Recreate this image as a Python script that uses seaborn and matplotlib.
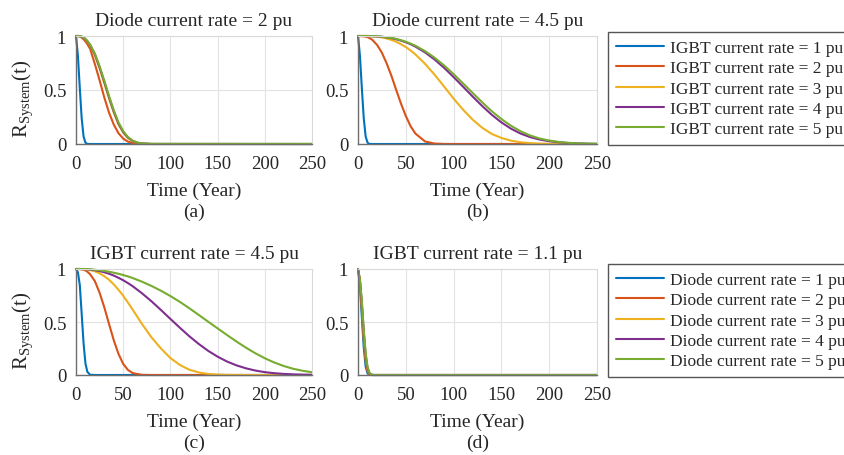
import numpy as np
import pandas as pd
import matplotlib
matplotlib.use("Agg")
import matplotlib.pyplot as plt
import seaborn as sns

# time grids (years) per panel
t_a = [0, 2, 4, 6, 8, 10, 12, 15, 20, 25, 30, 35, 40, 45, 50, 55, 60, 65, 70, 80, 250]
t_b = [0, 2, 4, 6, 8, 10, 12, 15, 20, 25, 30, 35, 40, 45, 50, 55, 60, 70, 80, 90,
       100, 110, 120, 130, 140, 150, 160, 170, 180, 190, 200, 210, 220, 230, 240, 250]
t_c = t_b
t_d = [0, 2, 4, 6, 8, 10, 12, 14, 16, 250]

# (a) diode current rate = 2 pu
a_1pu = [1, 0.82, 0.52, 0.24, 0.07, 0.012, 0.001] + [0] * 14
a_2pu = [1, 1.0, 0.995, 0.985, 0.97, 0.95, 0.925, 0.88, 0.74, 0.59, 0.43, 0.29, 0.18,
         0.1, 0.05, 0.022, 0.009, 0.003, 0.001, 0, 0]
a_3pu = [1, 1.0, 0.998, 0.992, 0.983, 0.968, 0.948, 0.91, 0.82, 0.70, 0.56, 0.42, 0.29,
         0.18, 0.105, 0.055, 0.026, 0.011, 0.004, 0.0004, 0]
a_4pu = [1, 1.0, 0.998, 0.993, 0.985, 0.971, 0.952, 0.915, 0.83, 0.71, 0.575, 0.433, 0.302,
         0.19, 0.112, 0.06, 0.029, 0.012, 0.0045, 0.0005, 0]
a_5pu = [1, 1.0, 0.998, 0.995, 0.988, 0.973, 0.955, 0.92, 0.836, 0.72, 0.585, 0.443, 0.312,
         0.2, 0.119, 0.064, 0.031, 0.013, 0.005, 0.0005, 0]

# (b) diode current rate = 4.5 pu
b_1pu = [1, 0.82, 0.52, 0.24, 0.07, 0.012, 0.001] + [0] * 29
b_2pu = [1, 1.0, 0.999, 0.998, 0.994, 0.989, 0.981, 0.964, 0.917, 0.845, 0.746, 0.63, 0.5,
         0.373, 0.26, 0.165, 0.097, 0.024, 0.004, 0.0004] + [0] * 16
b_3pu = [1, 1.0, 1.0, 1.0, 1.0, 0.999, 0.9985, 0.997, 0.993, 0.987, 0.977, 0.964, 0.946,
         0.924, 0.898, 0.866, 0.83, 0.744, 0.643, 0.533, 0.42, 0.317, 0.225, 0.15, 0.093,
         0.056, 0.031, 0.016, 0.008, 0.0035, 0.0015, 0.0006, 0.0002, 0, 0, 0]
b_4pu = [1, 1.0, 1.0, 1.0, 1.0, 1.0, 0.999, 0.998, 0.996, 0.993, 0.987, 0.98, 0.97,
         0.957, 0.942, 0.924, 0.902, 0.849, 0.783, 0.706, 0.62, 0.53, 0.439, 0.351, 0.27,
         0.2, 0.142, 0.097, 0.064, 0.041, 0.026, 0.016, 0.009, 0.005, 0.0025, 0.001]
b_5pu = [1, 1.0, 1.0, 1.0, 1.0, 1.0, 0.999, 0.999, 0.997, 0.993, 0.988, 0.982, 0.973,
         0.961, 0.947, 0.93, 0.91, 0.861, 0.8, 0.728, 0.647, 0.56, 0.472, 0.385, 0.303,
         0.231, 0.169, 0.118, 0.079, 0.051, 0.032, 0.019, 0.011, 0.006, 0.003, 0.0015]

# (c) IGBT current rate = 4.5 pu
c_1pu = [1, 0.97, 0.85, 0.58, 0.3, 0.11, 0.03, 0.002] + [0] * 28
c_2pu = [1, 1.0, 0.999, 0.997, 0.993, 0.986, 0.975, 0.95, 0.885, 0.776, 0.638, 0.481, 0.328,
         0.199, 0.105, 0.048, 0.018, 0.0015] + [0] * 18
c_3pu = [1, 1.0, 1.0, 0.999, 0.998, 0.997, 0.995, 0.99, 0.978, 0.959, 0.932, 0.898, 0.855,
         0.804, 0.748, 0.684, 0.617, 0.48, 0.355, 0.25, 0.16, 0.095, 0.05, 0.024, 0.01,
         0.004, 0.0015, 0.0005, 0, 0, 0, 0, 0, 0, 0, 0]
c_4pu = [1, 1.0, 1.0, 0.999, 0.999, 0.998, 0.997, 0.994, 0.989, 0.98, 0.969, 0.955, 0.938,
         0.917, 0.894, 0.867, 0.838, 0.77, 0.695, 0.613, 0.529, 0.446, 0.366, 0.293, 0.228,
         0.173, 0.127, 0.091, 0.063, 0.042, 0.027, 0.017, 0.0104, 0.006, 0.0034, 0.0019]
c_5pu = [1, 1.0, 1.0, 1.0, 1.0, 0.999, 0.999, 0.998, 0.993, 0.988, 0.982, 0.974, 0.965,
         0.955, 0.943, 0.93, 0.915, 0.88, 0.84, 0.795, 0.745, 0.69, 0.63, 0.567, 0.503,
         0.44, 0.377, 0.316, 0.258, 0.205, 0.158, 0.118, 0.085, 0.059, 0.04, 0.026]

# (d) IGBT current rate = 1.1 pu
d_1pu = [1, 0.85, 0.55, 0.26, 0.08, 0.015, 0.002, 0, 0, 0]
d_2pu = [1, 0.88, 0.62, 0.33, 0.13, 0.035, 0.006, 0.001, 0, 0]
d_3pu = [1, 0.89, 0.66, 0.38, 0.17, 0.055, 0.012, 0.002, 0, 0]
d_4pu = [1, 0.9, 0.68, 0.41, 0.19, 0.065, 0.016, 0.003, 0, 0]
d_5pu = [1, 0.9, 0.7, 0.43, 0.21, 0.075, 0.02, 0.004, 0, 0]

rates = ["1", "2", "3", "4", "5"]
igbt_labels = [f"IGBT current rate = {r} pu" for r in rates]
diode_labels = [f"Diode current rate = {r} pu" for r in rates]
titles = ["Diode current rate = 2 pu", "Diode current rate = 4.5 pu",
          "IGBT current rate = 4.5 pu", "IGBT current rate = 1.1 pu"]
panel_tags = ["(a)", "(b)", "(c)", "(d)"]
x_ticks = [0, 50, 100, 150, 200, 250]
y_ticks = [0, 0.5, 1]

colors = ["#0072BD", "#D95319", "#EDB120", "#7E2F8E", "#77AC30"]

sns.set_theme(style="whitegrid")
plt.rcParams["font.family"] = ["Liberation Serif", "DejaVu Serif"]
plt.rcParams["mathtext.fontset"] = "custom"
plt.rcParams["mathtext.rm"] = "Liberation Serif"
plt.rcParams["mathtext.it"] = "Liberation Serif:italic"

def long_df(t, series, labels):
    frames = []
    for vals, lab in zip(series, labels):
        frames.append(pd.DataFrame({"Time": t, "R": vals, "curve": lab}))
    return pd.concat(frames, ignore_index=True)

panels = [
    (t_a, [a_1pu, a_2pu, a_3pu, a_4pu, a_5pu], igbt_labels),
    (t_b, [b_1pu, b_2pu, b_3pu, b_4pu, b_5pu], igbt_labels),
    (t_c, [c_1pu, c_2pu, c_3pu, c_4pu, c_5pu], diode_labels),
    (t_d, [d_1pu, d_2pu, d_3pu, d_4pu, d_5pu], diode_labels),
]

W, H = 845, 456
fig = plt.figure(figsize=(W / 100, H / 100), dpi=100)

# axes boxes in pixels: left, top, right, bottom
boxes = [(76, 37, 312, 145), (358, 37, 597, 145), (76, 270, 312, 376), (358, 270, 597, 376)]
fs = 14
fs_tick = 13.5
fs_leg = 12.5

axes = []
for i, (t, series, labels) in enumerate(panels):
    l, tp, r, b = boxes[i]
    ax = fig.add_axes([l / W, 1 - b / H, (r - l) / W, (b - tp) / H])
    axes.append(ax)
    df = long_df(t, series, labels)
    sns.lineplot(data=df, x="Time", y="R", hue="curve", hue_order=labels,
                 palette=colors, linewidth=1.5, ax=ax, legend=False)
    for line in ax.get_lines():
        line.set_clip_on(False)
    ax.set_xlim(0, 250)
    ax.set_ylim(0, 1)
    ax.set_xticks(x_ticks)
    ax.set_yticks(y_ticks)
    ax.set_yticklabels(["0", "0.5", "1"])
    ax.tick_params(axis="both", labelsize=fs_tick, length=0, pad=7)
    ax.tick_params(axis="x", pad=8)
    ax.grid(True, color="#e3e3e3", linewidth=0.8)
    ax.set_title(titles[i], fontsize=fs, pad=8)
    ax.set_xlabel("Time (Year)\n" + panel_tags[i], fontsize=fs, labelpad=7, linespacing=1.25)
    ax.set_ylabel("")
    for side in ["left", "bottom"]:
        ax.spines[side].set_color("#6e6e6e")
        ax.spines[side].set_linewidth(1.0)
    for side in ["top", "right"]:
        ax.spines[side].set_color("#d9d9d9")
        ax.spines[side].set_linewidth(0.8)

for ax in (axes[0], axes[2]):
    ax.set_ylabel(r"R$_{\mathrm{System}}$(t)", fontsize=fs + 1)
    ax.yaxis.set_label_coords(-0.175, 0.43)

# legends to the right of (b) and (d)
for ax, labels, top_px in ((axes[1], igbt_labels, 33), (axes[3], diode_labels, 265)):
    handles = ax.get_lines()[:5]
    leg = ax.legend(handles, labels, loc="upper left",
                    bbox_to_anchor=(608 / W, 1 - top_px / H),
                    bbox_transform=fig.transFigure, fontsize=fs_leg,
                    frameon=True, fancybox=False, shadow=False,
                    handlelength=2.8, handletextpad=0.3, labelspacing=0.24,
                    borderpad=0.45, borderaxespad=0)
    leg.get_frame().set_edgecolor("#555555")
    leg.get_frame().set_linewidth(1.0)
    leg.get_frame().set_alpha(1)

fig.savefig("out.png", dpi=100)
